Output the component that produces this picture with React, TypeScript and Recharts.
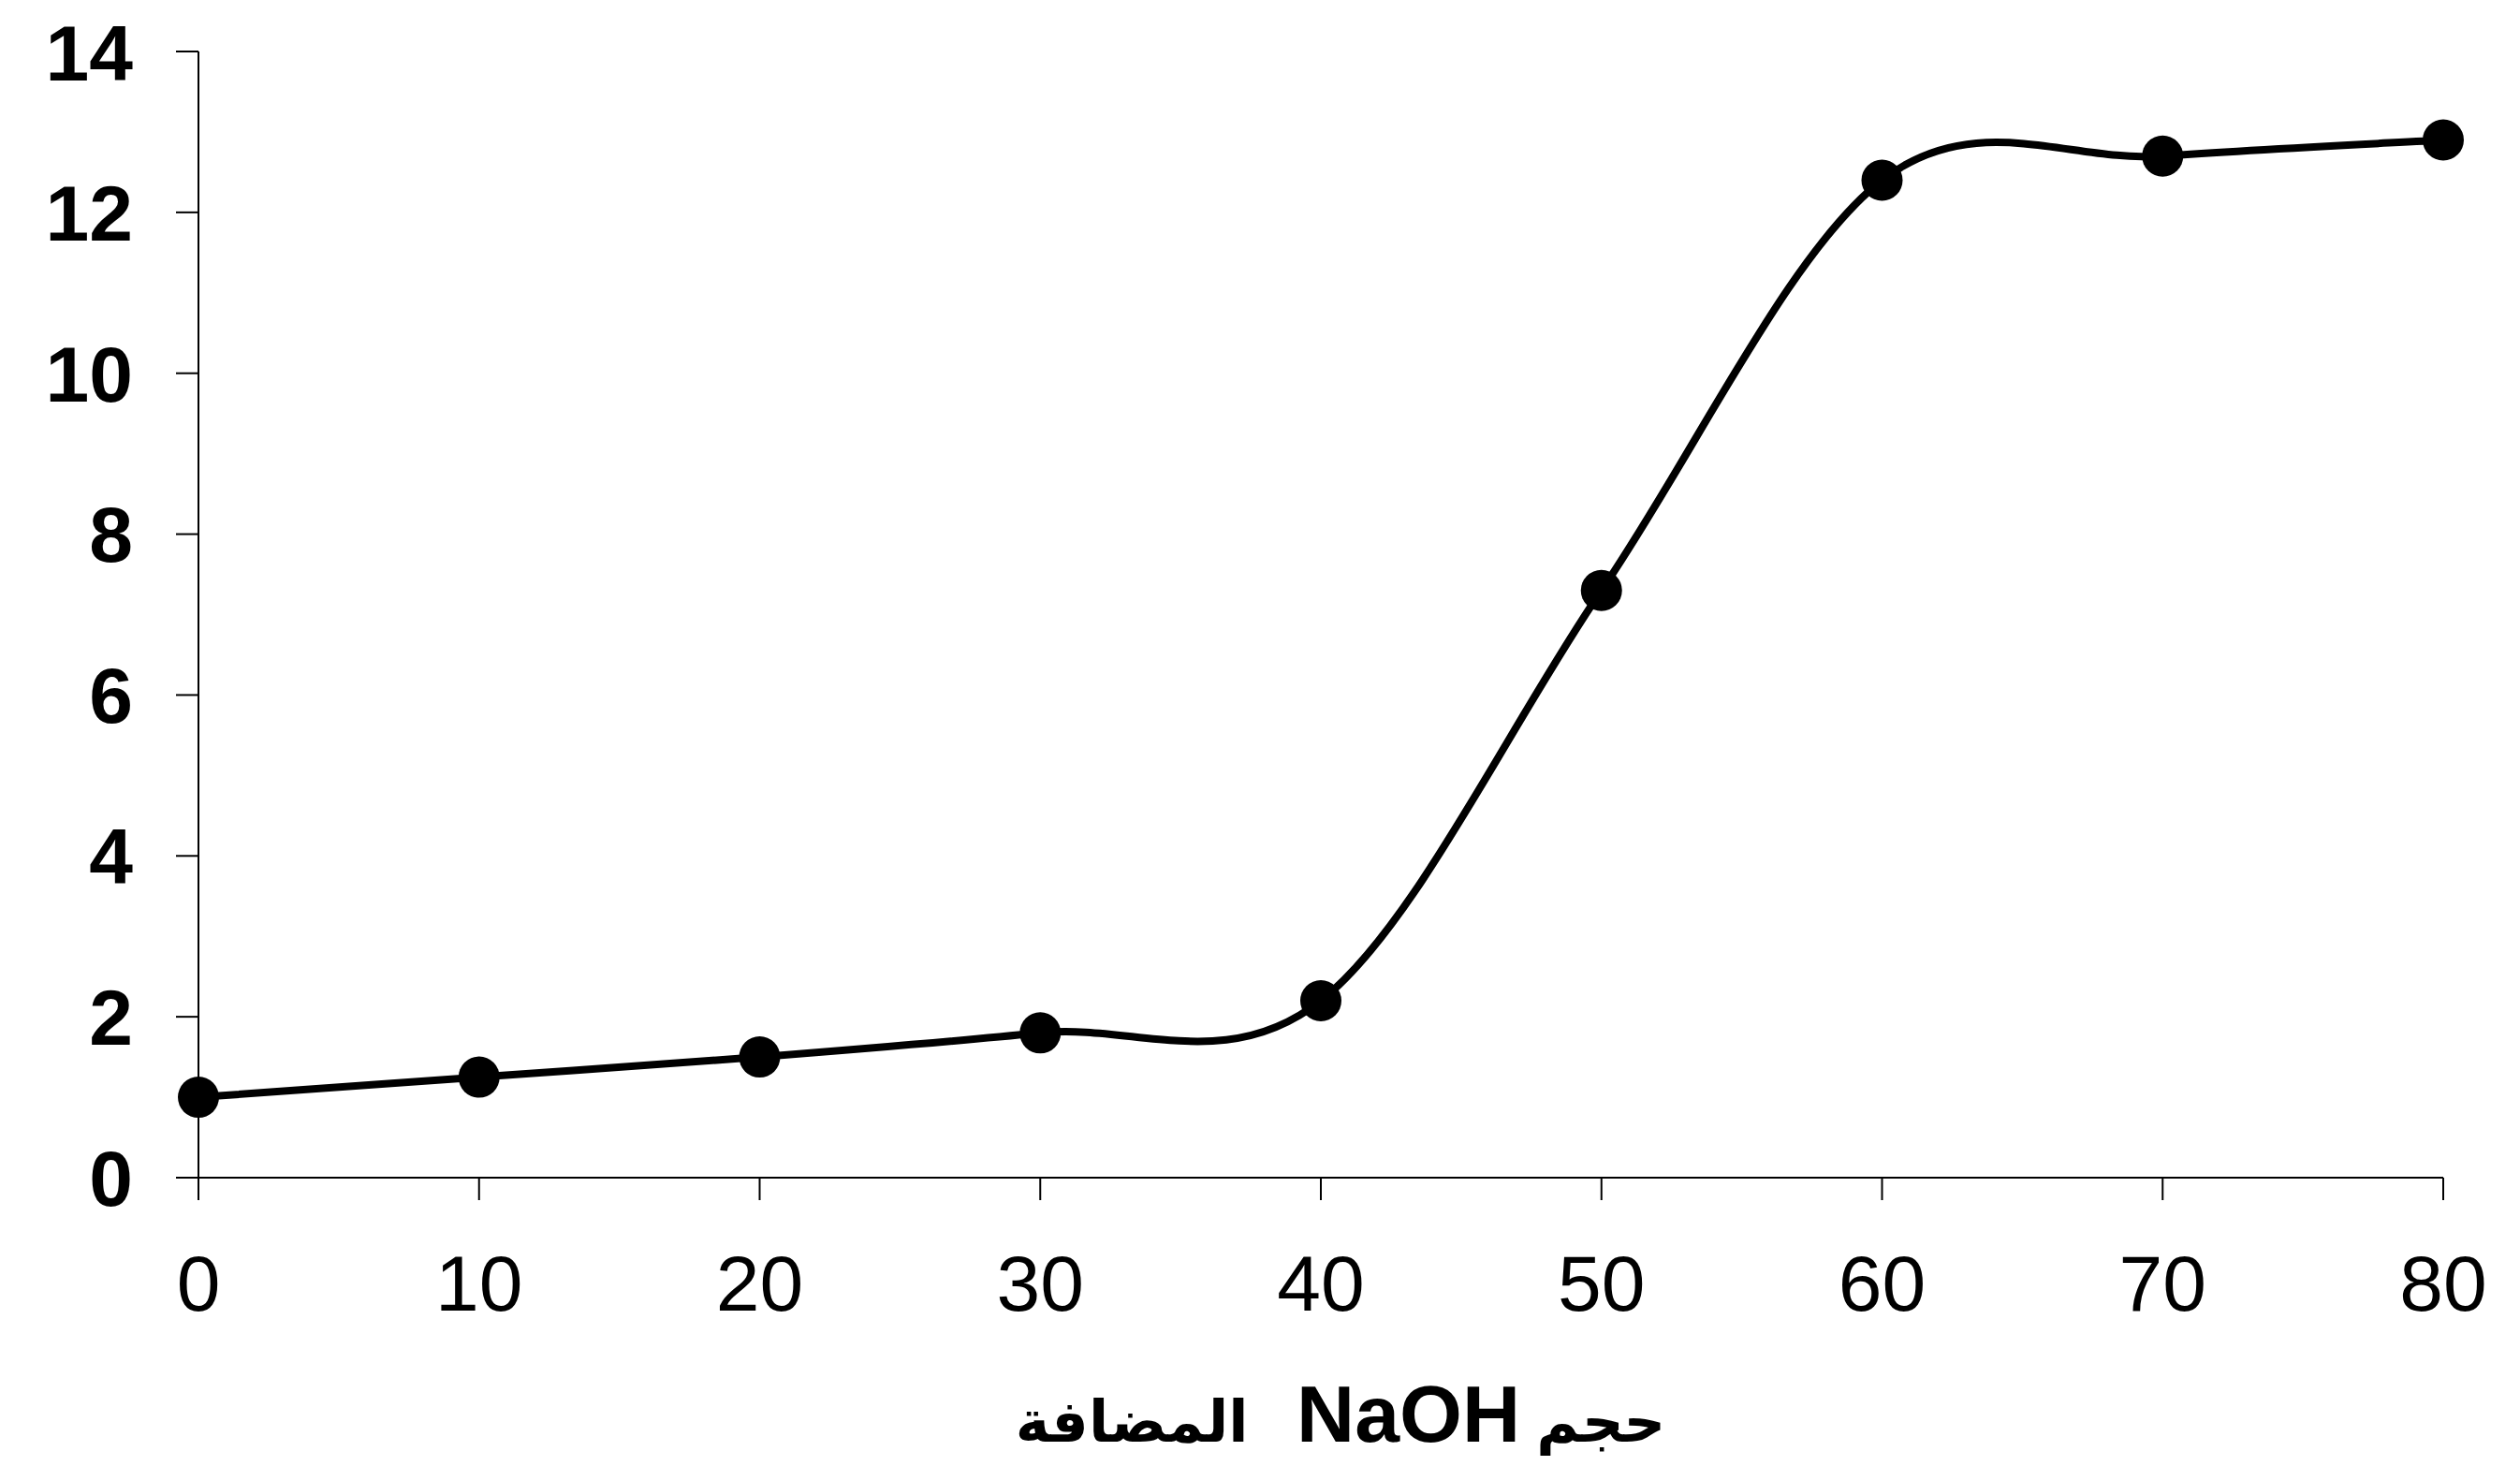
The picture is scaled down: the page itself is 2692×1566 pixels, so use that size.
import { LineChart, Line, XAxis, YAxis } from "recharts";

const volumes = [0, 10, 20, 30, 40, 50, 60, 70, 80];
const phValues = [1.0, 1.25, 1.5, 1.8, 2.2, 7.3, 12.4, 12.7, 12.9];
const xTicks = [0, 10, 20, 30, 40, 50, 60, 70, 80];
const yTicks = [0, 2, 4, 6, 8, 10, 12, 14];
const titleParts = ["حجم", "NaOH", "المضافة"];

const chartData = volumes.map((v, i) => ({ volume: v, ph: phValues[i] }));

// Excel-like smoothed line (Catmull-Rom through the points)
const smoothCurve = (context: any) => {
  let pts: [number, number][] = [];
  return {
    areaStart() {},
    areaEnd() {},
    lineStart() {
      pts = [];
    },
    point(x: number, y: number) {
      pts.push([+x, +y]);
    },
    lineEnd() {
      if (!pts.length) return;
      context.moveTo(pts[0][0], pts[0][1]);
      for (let i = 0; i < pts.length - 1; i++) {
        const p0 = pts[i - 1] || pts[i];
        const p1 = pts[i];
        const p2 = pts[i + 1];
        const p3 = pts[i + 2] || p2;
        const t = 1 / 6;
        context.bezierCurveTo(
          p1[0] + (p2[0] - p0[0]) * t,
          p1[1] + (p2[1] - p0[1]) * t,
          p2[0] - (p3[0] - p1[0]) * t,
          p2[1] - (p3[1] - p1[1]) * t,
          p2[0],
          p2[1]
        );
      }
    },
  };
};

const font = "'Liberation Sans', Arial, 'DejaVu Sans', sans-serif";

function AxisTitle(props: any) {
  const vb = props.viewBox || {};
  return (
    <text
      x={vb.x + vb.width / 2 + 21}
      y={vb.y + vb.height - 18}
      textAnchor="middle"
      direction="rtl"
      fontFamily={font}
      fontWeight="bold"
      fontSize={86}
      fill="#000"
      style={{ direction: "rtl", unicodeBidi: "embed" }}
    >
      <tspan fontSize={62}>{titleParts[0] + " "}</tspan>
      <tspan>{titleParts[1]}</tspan>
      <tspan fontSize={62}>{"\u00a0\u00a0\u00a0" + titleParts[2]}</tspan>
    </text>
  );
}

export default function App() {
  return (
    <div style={{ background: "#fff" }}>
      <LineChart
        width={2676}
        height={1550}
        data={chartData}
        margin={{ top: 47, right: 74, bottom: 0, left: 0 }}
      >
        <XAxis
          dataKey="volume"
          type="number"
          domain={[0, 80]}
          ticks={xTicks}
          height={300}
          stroke="#000"
          strokeWidth={2}
          tickSize={24}
          tickMargin={58}
          tick={{ fill: "#000", fontSize: 84, fontFamily: font }}
          label={{ content: AxisTitle }}
        />
        <YAxis
          type="number"
          domain={[0, 14]}
          ticks={yTicks}
          width={204}
          stroke="#000"
          strokeWidth={2}
          tickSize={24}
          tickMargin={46}
          tick={{ fill: "#000", fontSize: 84, fontFamily: font, fontWeight: "bold" }}
        />
        <Line
          dataKey="ph"
          type={smoothCurve as any}
          stroke="#000"
          strokeWidth={8}
          dot={{ r: 22, fill: "#000", stroke: "#000", strokeWidth: 0 }}
          activeDot={false}
          isAnimationActive={false}
        />
      </LineChart>
    </div>
  );
}
